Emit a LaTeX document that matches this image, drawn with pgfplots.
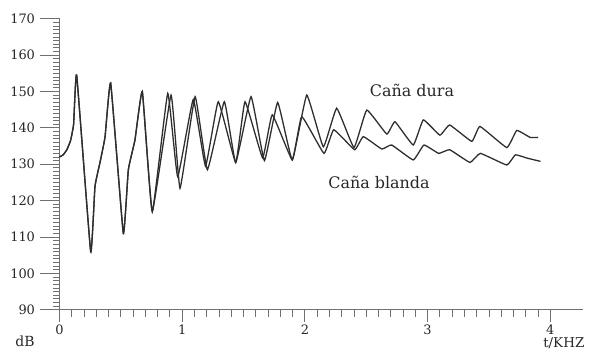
\documentclass[border=0pt]{standalone}
\usepackage{pgfplots}
\pgfplotsset{compat=1.18}
\usepackage{fontspec}
\setmainfont{DejaVu Serif}
\definecolor{axg}{HTML}{707070}
\definecolor{crv}{HTML}{2E2E2E}
\begin{document}
\begin{tikzpicture}
\begin{axis}[
  scale only axis, width=523.9bp, height=291bp,
  xmin=0, xmax=4.27, ymin=90, ymax=170,
  axis x line=bottom, axis y line=left,
  axis line style={-, draw=axg, line width=1.4pt},
  tick align=outside,
  xtick={0,1,2,3,4}, ytick={90,100,...,170},
  xticklabels={0,1,2,3,4},
  yticklabels={90,100,110,120,130,140,150,160,170},
  minor x tick num=9, minor y tick num=9,
  major tick length=12bp, minor tick length=7bp,
  every tick/.style={draw=axg, line width=0.9pt},
  extra y ticks={90,100,...,170}, extra y tick labels={},
  extra y tick style={major tick length=20bp},
  tick label style={font=\fontsize{13}{13}\selectfont, text=black!85},
  yticklabel style={xshift=-9bp},
  clip=false,
]
\addplot[crv, line width=1.3pt, smooth, tension=0.2] coordinates {
(0,132) (0.03,132.6) (0.06,134) (0.09,136.5) (0.115,141) (0.14,154.5)
(0.254,106) (0.289,123.9) (0.33,130.5) (0.371,137.5) (0.417,152.3)
(0.52,111) (0.561,128.5) (0.615,136.7) (0.675,150) (0.756,117)
(0.882,149.5) (0.963,126.6) (1.09,147.8) (1.19,129.5) (1.294,147.2)
(1.436,130.5) (1.512,147.2) (1.655,131.8) (1.734,143.6) (1.897,131.2)
(1.974,143.1) (2.155,133) (2.235,139.5) (2.405,134) (2.476,137.6)
(2.626,134.2) (2.707,135.3) (2.883,131.2) (2.97,135.3) (3.09,133)
(3.18,134) (3.345,130.5) (3.43,133) (3.645,129.8) (3.715,132.6)
(3.81,131.7) (3.92,130.8)
};
\addplot[crv, line width=1.3pt, smooth, tension=0.2] coordinates {
(0,132) (0.03,132.6) (0.06,134) (0.09,136.5) (0.115,141) (0.14,154.5)
(0.254,106) (0.289,123.9) (0.33,130.5) (0.371,137.5) (0.417,152.3)
(0.52,111) (0.561,128.5) (0.615,136.7) (0.675,150) (0.756,117)
(0.909,149) (0.982,123.4) (1.105,148.6) (1.205,128.5) (1.343,147.2)
(1.436,130.5) (1.561,148.6) (1.67,131) (1.778,147) (1.897,131.2)
(2.015,149) (2.15,134.8) (2.259,145.4) (2.40,134.6) (2.504,144.9)
(2.667,138.3) (2.734,141.7) (2.883,135.3) (2.965,142.2) (3.10,138)
(3.18,140.8) (3.36,136.3) (3.427,140.4) (3.645,134.6) (3.726,139.3)
(3.835,137.4) (3.90,137.4)
};
\draw[axg, line width=1.4pt] (axis cs:-0.12,90) -- (axis cs:0,90);
\draw[axg, line width=1.4pt] (axis cs:0,90) -- (axis cs:0,87.8);
\node[font=\fontsize{16}{16}\selectfont, text=black!85] at (axis cs:2.873,150.4) {Caña dura};
\node[font=\fontsize{16}{16}\selectfont, text=black!85] at (axis cs:2.604,124.9) {Caña blanda};
\node[font=\fontsize{14}{14}\selectfont, text=black!85, inner sep=0pt] at (axis cs:-0.281,81.3) {dB};
\node[font=\fontsize{13.5}{13.5}\selectfont, text=black!85, inner sep=0pt] at (axis cs:4.11,80.9) {t/KHZ};
\coordinate (bl) at (axis cs:-0.485,78.74);
\coordinate (tr) at (axis cs:4.356,175.16);
\end{axis}
\pgfresetboundingbox
\path[use as bounding box] (bl) rectangle (tr);
\end{tikzpicture}
\end{document}
